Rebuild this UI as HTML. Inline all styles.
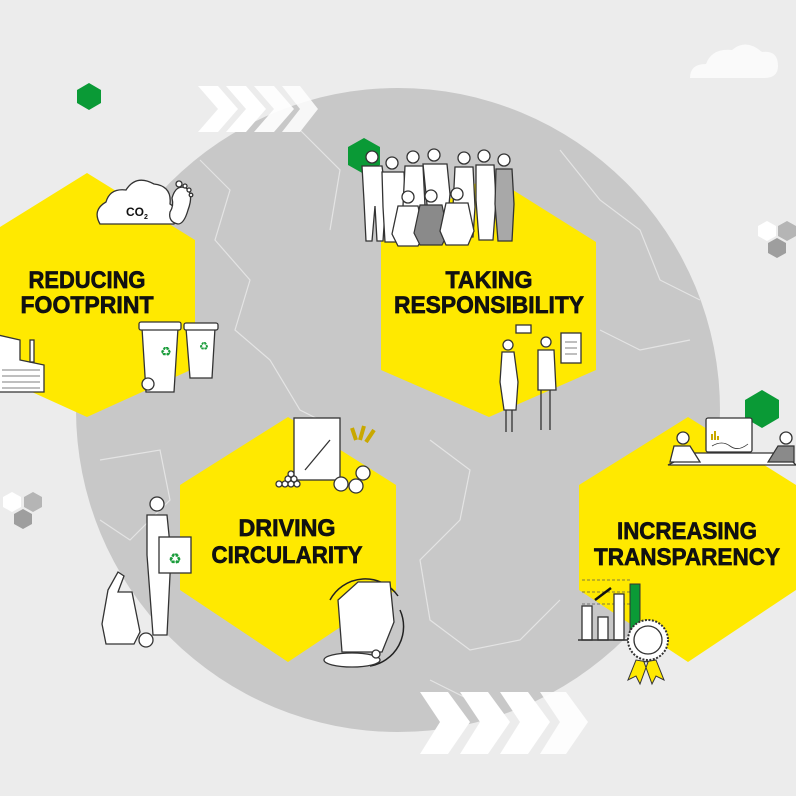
<!DOCTYPE html>
<html><head><meta charset="utf-8"><style>
html,body{margin:0;padding:0;background:#ececec;}
svg{display:block;}
.t{font-family:"Liberation Sans",sans-serif;font-weight:bold;font-size:24px;fill:#111;stroke:#111;stroke-width:0.7;}
.w{fill:#fff;stroke:#333;stroke-width:1.3;}
.g{fill:#8a8a8a;stroke:#333;stroke-width:1.2;}
.m{fill:none;stroke:#e4e4e4;stroke-width:1.2;}
</style></head><body>
<svg width="796" height="796" viewBox="0 0 796 796" xmlns="http://www.w3.org/2000/svg">
<rect width="796" height="796" fill="#ececec"/>
<path d="M690 78 q0-14 16-14 q6-16 26-14 q14-12 30 2 q16-2 16 14 q0 12-14 12 h-62 q-12 0-12 0z" fill="#fafafa"/>
<circle cx="398" cy="410" r="322" fill="#c8c8c8"/>
<path class="m" d="M200 160 L230 190 L215 240 L250 280 L235 330 L270 360 L300 410 L340 430 M300 130 L340 170 L330 230 M560 150 L600 200 L640 230 L660 280 L700 300 M430 440 L470 470 L460 520 L420 560 L430 620 L470 650 L520 640 L560 600 M100 460 L160 450 L170 500 L130 540 L100 520 M600 330 L640 350 L690 340 M430 680 L470 700 L500 730 M640 620 L690 640"/>
<g fill="#fff">
<polygon points="198,86 218,86 238,109 218,132 198,132 218,109"/>
<polygon points="226,86 246,86 266,109 246,132 226,132 246,109"/>
<polygon points="254,86 274,86 294,109 274,132 254,132 274,109" opacity=".9"/>
<polygon points="282,86 300,86 318,109 300,132 282,132 300,109" opacity=".85"/>
</g>
<g fill="#fff">
<polygon points="420,692 448,692 470,722 448,754 420,754 440,722"/>
<polygon points="460,692 488,692 510,722 488,754 460,754 480,722"/>
<polygon points="500,692 528,692 550,722 528,754 500,754 520,722"/>
<polygon points="540,692 566,692 588,722 566,754 540,754 560,722" opacity=".9"/>
</g>
<polygon points="89,83 101,90 101,103 89,110 77,103 77,90" fill="#0a9a36"/>
<polygon points="364,138 380,147 380,165 364,174 348,165 348,147" fill="#0a9a36"/>
<polygon points="762,390 779,400 779,418 762,428 745,418 745,400" fill="#0a9a36"/>
<polygon points="767,221 776,226 776,236 767,241 758,236 758,226" fill="#fff"/>
<polygon points="787,221 796,226 796,236 787,241 778,236 778,226" fill="#b5b5b5"/>
<polygon points="777,238 786,243 786,253 777,258 768,253 768,243" fill="#9e9e9e"/>
<polygon points="12,492 21,497 21,507 12,512 3,507 3,497" fill="#fff"/>
<polygon points="33,492 42,497 42,507 33,512 24,507 24,497" fill="#b5b5b5"/>
<polygon points="23,509 32,514 32,524 23,529 14,524 14,514" fill="#9e9e9e"/>
<g fill="#ffe900">
<polygon points="87,173 195,240 195,368 87,417 -21,368 -21,240"/>
<polygon points="489,175 596,242 596,370 489,417 381,370 381,242"/>
<polygon points="288,417 396,485 396,590 288,662 180,590 180,485"/>
<polygon points="688,417 796,485 796,590 688,662 579,590 579,485"/>
</g>
<text class="t" x="87" y="288" text-anchor="middle" textLength="117" lengthAdjust="spacingAndGlyphs">REDUCING</text>
<text class="t" x="87" y="313" text-anchor="middle" textLength="133" lengthAdjust="spacingAndGlyphs">FOOTPRINT</text>
<text class="t" x="489" y="288" text-anchor="middle" textLength="87" lengthAdjust="spacingAndGlyphs">TAKING</text>
<text class="t" x="489" y="313" text-anchor="middle" textLength="190" lengthAdjust="spacingAndGlyphs">RESPONSIBILITY</text>
<text class="t" x="287" y="536" text-anchor="middle" textLength="97" lengthAdjust="spacingAndGlyphs">DRIVING</text>
<text class="t" x="287" y="563" text-anchor="middle" textLength="151" lengthAdjust="spacingAndGlyphs">CIRCULARITY</text>
<text class="t" x="687" y="539" text-anchor="middle" textLength="140" lengthAdjust="spacingAndGlyphs">INCREASING</text>
<text class="t" x="687" y="565" text-anchor="middle" textLength="186" lengthAdjust="spacingAndGlyphs">TRANSPARENCY</text>
<path class="w" d="M100 224 q-8-14 6-22 q4-14 20-12 q10-16 28-6 q18 2 16 20 q10 6 4 20 z"/>
<text x="126" y="216" font-family="Liberation Sans,sans-serif" font-weight="bold" font-size="12" fill="#111">CO<tspan font-size="7" dy="3">2</tspan></text>
<path class="w" d="M172 198 q4-14 14-10 q8 6 2 22 q-4 14-10 14 q-10-2-8-12 q4-6 2-14z"/>
<circle class="w" cx="179" cy="184" r="3"/><circle class="w" cx="185" cy="186" r="2"/><circle class="w" cx="189" cy="190" r="2"/><circle class="w" cx="191" cy="195" r="1.8"/>
<path class="w" d="M-2 335 L20 340 L20 360 L44 365 L44 392 L-2 392 Z"/>
<rect class="w" x="30" y="340" width="4" height="22"/>
<path d="M2 370 H40 M2 376 H40 M2 382 H40 M2 388 H40" stroke="#555" stroke-width="0.8"/>
<path class="w" d="M186 328 L215 328 L212 378 L190 378 Z"/><rect class="w" x="184" y="323" width="34" height="7" rx="2"/>
<path class="w" d="M142 328 L178 328 L174 392 L146 392 Z"/><rect class="w" x="139" y="322" width="42" height="8" rx="2"/>
<circle class="w" cx="148" cy="384" r="6"/>
<text x="166" y="356" font-size="13" fill="#1a9c3b" text-anchor="middle" font-family="DejaVu Sans,sans-serif">♻</text>
<text x="204" y="350" font-size="11" fill="#1a9c3b" text-anchor="middle" font-family="DejaVu Sans,sans-serif">♻</text>
<g class="w">
<circle cx="372" cy="157" r="6"/><path d="M362 166 h20 l4 30 l-3 45 h-6 l-2-35 l-3 35 h-6 l-2-40 z"/>
<circle cx="392" cy="163" r="6"/><path d="M382 172 h22 l2 35 l-3 35 h-18 l-2-35 z"/>
<circle cx="413" cy="157" r="6"/><path d="M405 166 h18 l2 40 l-2 30 h-16 l-4-30 z"/>
<circle cx="434" cy="155" r="6"/><path d="M423 164 h24 l3 30 l-4 42 h-16 l-4-42 z"/>
<circle cx="464" cy="158" r="6"/><path d="M455 167 h18 l2 40 l-2 30 h-16 l-4-30 z"/>
<circle cx="484" cy="156" r="6"/><path d="M476 165 h18 l2 35 l-3 40 h-14 l-3-40 z"/>
<circle cx="504" cy="160" r="6"/><path d="M496 169 h16 l2 35 l-2 37 h-14 l-3-37 z" fill="#a8a8a8"/>
<circle cx="408" cy="197" r="6"/><path d="M398 206 h20 l6 28 l-6 12 h-20 l-6-12 z"/>
<circle cx="431" cy="196" r="6"/><path d="M420 205 h22 l6 28 l-6 12 h-22 l-6-12 z" class="g"/>
<circle cx="457" cy="194" r="6"/><path d="M446 203 h22 l6 28 l-6 14 h-22 l-6-14 z"/>
</g>
<g class="w">
<circle cx="508" cy="345" r="5"/><path d="M502 352 h12 l4 30 l-2 28 h-12 l-4-28 z"/><path d="M506 410 v22 M512 410 v22" fill="none"/>
<circle cx="546" cy="342" r="5"/><path d="M538 350 h16 l2 40 h-18 z"/><path d="M541 390 v40 M550 390 v40" fill="none"/>
<rect x="516" y="325" width="15" height="8"/>
<rect x="561" y="333" width="20" height="30"/>
<path d="M565 342 h12 M565 348 h12 M565 354 h12" stroke="#555" stroke-width="0.8"/>
</g>
<g class="w">
<rect x="294" y="418" width="46" height="62"/>
<path d="M305 470 L330 440" fill="none"/>
<circle cx="285" cy="484" r="3"/><circle cx="291" cy="484" r="3"/><circle cx="297" cy="484" r="3"/><circle cx="288" cy="479" r="3"/><circle cx="294" cy="479" r="3"/><circle cx="291" cy="474" r="3"/><circle cx="279" cy="484" r="3"/>
<circle cx="341" cy="484" r="7"/><circle cx="356" cy="486" r="7"/><circle cx="363" cy="473" r="7"/>
</g>
<path d="M356 440 l-4-12 M360 440 l4-14 M366 442 l8-12" stroke="#c9a800" stroke-width="4" fill="none"/>
<g class="w">
<circle cx="157" cy="504" r="7"/><path d="M147 515 h20 l4 40 l-4 80 h-14 l-6-80 z"/>
<rect x="159" y="537" width="32" height="36"/>
</g>
<text x="175" y="564" font-size="15" fill="#1a9c3b" text-anchor="middle" font-family="DejaVu Sans,sans-serif">♻</text>
<g class="w">
<path d="M108 590 l10 -18 l6 4 l-6 16 h14 l8 40 l-6 12 h-28 l-4-20 z"/>
<circle cx="146" cy="640" r="7"/>
</g>
<path d="M330 600 a40 40 0 0 1 68 -4 M400 610 a40 40 0 0 1 -30 56" fill="none" stroke="#222" stroke-width="1.5"/>
<g class="w">
<ellipse cx="352" cy="660" rx="28" ry="7"/>
<path d="M338 600 l20 -18 h32 l4 40 l-12 30 h-40 z"/>
<circle cx="376" cy="654" r="4"/>
</g>
<g class="w">
<path d="M668 465 l24 -12 h92 l12 12 z"/>
<rect x="706" y="418" width="46" height="34" rx="2"/>
<circle cx="683" cy="438" r="6"/><path d="M674 446 h16 l10 16 h-30 z"/>
<circle cx="786" cy="438" r="6"/><path d="M778 446 h16 v16 h-26 z" class="g"/>
</g>
<path d="M712 434 v6 M715 431 v9 M718 436 v4" stroke="#c9a800" stroke-width="2"/>
<path d="M712 446 q10 -6 18 0 t18 -2" stroke="#333" fill="none" stroke-width="0.8"/>
<path d="M582 580 h50 M582 592 h50 M582 604 h50" stroke="#555" stroke-dasharray="3 2" stroke-width="0.8"/>
<g class="w">
<rect x="582" y="606" width="10" height="34"/>
<rect x="598" y="617" width="10" height="23"/>
<rect x="614" y="594" width="10" height="46"/>
</g>
<rect x="630" y="584" width="10" height="56" fill="#0a9a36" stroke="#333"/>
<path d="M578 640 h60" stroke="#333" stroke-width="1.5"/>
<path d="M595 600 l16 -12" stroke="#111" stroke-width="2.5"/>
<path d="M636 660 l-8 20 l8-4 l4 8 l8-22 z M656 660 l8 20 l-8-4 l-4 8 l-8-22 z" fill="#ffe900" stroke="#333"/>
<circle cx="648" cy="640" r="20" fill="#fff" stroke="#333" stroke-dasharray="2 1.5" stroke-width="2"/>
<circle cx="648" cy="640" r="14" class="w"/>
</svg>
</body></html>
